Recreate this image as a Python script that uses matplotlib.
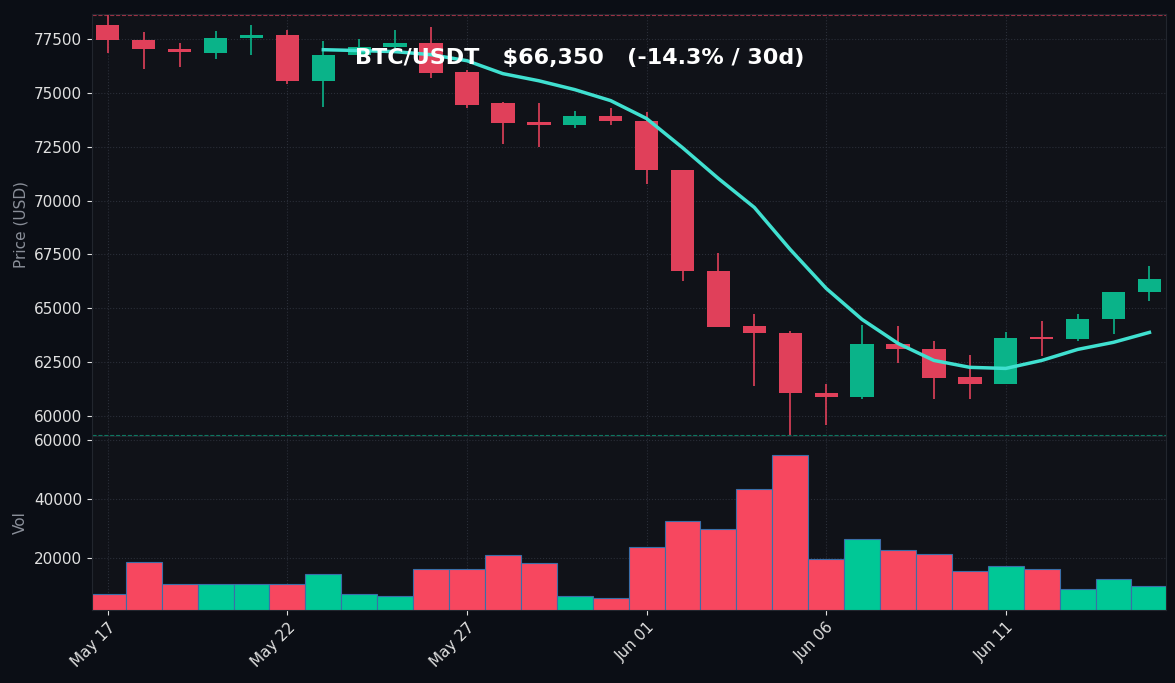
import matplotlib
matplotlib.use("Agg")
import matplotlib.pyplot as plt
import matplotlib.dates as mdates
import numpy as np
import pandas as pd

dates = pd.date_range("2024-05-17", periods=30, freq="D")
opens  = [78150,77450,77040,76850,77550,77650,75550,76750,77100,77300,75950,74500,73650,73480,73930,
          73700,71430,66750,64200,63880,61060,60880,63330,63100,61800,61520,63650,63600,64530,65780]
closes = [77450,77040,76900,77550,77650,75550,76750,77100,77300,75930,74450,73600,73480,73930,73700,
          71430,66750,64150,63880,61060,60880,63330,63100,61760,61520,63650,63600,64530,65780,66380]
highs  = [78600,77800,77300,77850,78150,77900,77400,77500,77900,78050,76050,74550,74500,74150,74300,
          74100,71430,67550,64750,63950,61500,64250,64200,63500,62850,63900,64400,64750,65780,66950]
lows   = [76850,76100,76200,76550,76750,75400,74350,76700,77000,75700,74300,72600,72500,73350,73500,
          70750,66250,64150,61400,59150,59600,60800,62450,60800,60800,61520,62800,63500,63800,65350]
ma_vals = [np.nan]*6 + [76990,76950,76900,76760,76480,75880,75550,75140,74630,73800,72450,71020,69680,
           67730,65930,64490,63380,62590,62270,62220,62590,63100,63430,63890]
volumes = [8000,18700,11200,11200,11200,11200,14800,8000,7300,16500,16500,21000,18400,7300,6600,
           23800,32600,30000,43300,54800,19700,26500,22700,21400,15600,17300,16300,9800,12900,10600]
title = "BTC/USDT   $66,350   (-14.3% / 30d)"

FIG_BG = "#0b0e15"; AX_BG = "#101218"
UP = "#0ab389"; DN = "#e0405a"; VUP = "#00c896"; VDN = "#f7475f"; MA = "#40e0d0"

fig = plt.figure(figsize=(11.75, 6.83), dpi=100, facecolor=FIG_BG)
ax = fig.add_axes([0.078, 0.362, 0.914, 0.618])
axv = fig.add_axes([0.078, 0.107, 0.914, 0.255], sharex=ax)
x = mdates.date2num(dates)
for a in (ax, axv):
    a.set_facecolor(AX_BG)
    a.set_axisbelow(True)
    a.grid(True, color="#2a2e38", linestyle=":", linewidth=0.8)
    for s in a.spines.values():
        s.set_color("#22262e")
    a.tick_params(colors="#e0e0e0", labelsize=11)

for i in range(len(x)):
    up = closes[i] >= opens[i]
    c = UP if up else DN
    ax.vlines(x[i], lows[i], highs[i], color=c, linewidth=1.2, zorder=2)
    lo, hi = min(opens[i], closes[i]), max(opens[i], closes[i])
    ax.bar(x[i], max(hi - lo, 60), bottom=lo, width=0.65, color=c, zorder=3)
ax.plot(x, ma_vals, color=MA, linewidth=2.5, zorder=4)
ax.axhline(max(highs), color=DN, linestyle="--", linewidth=0.8, alpha=0.7)
ax.axhline(min(lows), color=UP, linestyle="--", linewidth=0.8, alpha=0.7)
ax.set_ylim(59100, 78660)
ax.set_ylabel("Price (USD)", color="#8a8f99", fontsize=11)
ax.text(0.245, 0.88, title, transform=ax.transAxes, color="white", fontsize=16, fontweight="bold", zorder=5)
plt.setp(ax.get_xticklabels(), visible=False)

vc = [VUP if closes[i] >= opens[i] else VDN for i in range(len(x))]
axv.bar(x, volumes, width=1.0, color=vc, edgecolor="#3a6ea8", linewidth=0.8)
axv.set_ylim(2600, 61300)
axv.set_yticks([20000, 40000, 60000])
axv.set_ylabel("Vol", color="#8a8f99", fontsize=11)
axv.set_xlim(x[0] - 0.45, x[-1] + 0.45)
axv.xaxis.set_major_locator(mdates.DayLocator(bymonthday=[1, 6, 11, 17, 22, 27]))
axv.xaxis.set_major_formatter(mdates.DateFormatter("%b %d"))
plt.setp(axv.get_xticklabels(), rotation=45, ha="right", rotation_mode="anchor")
fig.savefig("out.png", facecolor=FIG_BG)
